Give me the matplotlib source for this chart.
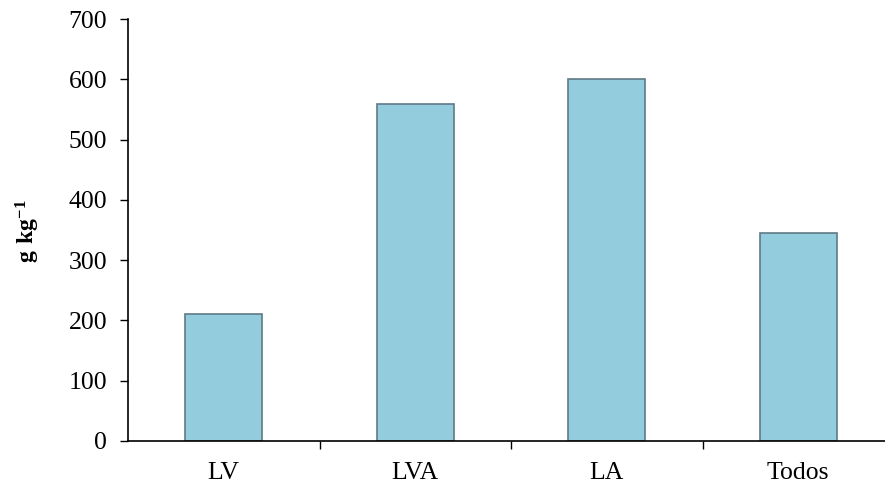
import matplotlib
matplotlib.use('Agg')
import matplotlib.pyplot as plt
import numpy as np

categorias = ['LV', 'LVA', 'LA', 'Todos']
valores = [211, 560, 600, 345]

plt.rcParams['font.family'] = 'Liberation Serif'
plt.rcParams['mathtext.fontset'] = 'custom'
plt.rcParams['mathtext.rm'] = 'Liberation Serif'
plt.rcParams['mathtext.bf'] = 'Liberation Serif:bold'

fig = plt.figure(figsize=(8.85, 4.86), dpi=100)
ax = fig.add_axes([128/885, 1 - 440.7/486, (894 - 128)/885, (440.7 - 19.3)/486])

x = np.arange(len(categorias))
ax.bar(x, valores, width=0.40, color='#93CDDD', edgecolor='#5F7A86', linewidth=1.2)

ax.set_xlim(-0.5, len(categorias) - 0.5)
ax.set_ylim(0, 700)
ax.set_yticks(range(0, 701, 100))
ax.set_xticks(x)
ax.set_xticklabels(categorias)
ax.set_xticks(np.arange(0.5, len(categorias) - 0.5, 1), minor=True)

ax.tick_params(axis='x', which='major', length=0, labelsize=18.5, pad=15)
ax.tick_params(axis='x', which='minor', length=6, width=1, direction='out')
ax.tick_params(axis='y', length=6, width=1, direction='out', labelsize=18.5, pad=9)

for s in ['top', 'right']:
    ax.spines[s].set_visible(False)
ax.spines['left'].set_linewidth(1.2)
ax.spines['bottom'].set_linewidth(1.2)

# rotulo do eixo y
fig.text(28/885, 1 - 231/486, r'$\mathbf{g\ kg^{-1}}$', fontsize=17,
         rotation=90, ha='center', va='center')

fig.savefig('out.png', dpi=100)
